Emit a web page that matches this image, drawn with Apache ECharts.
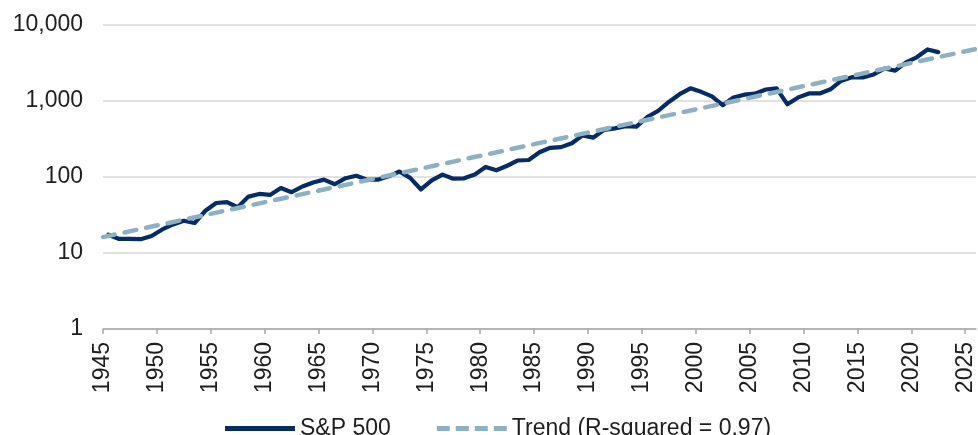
<!DOCTYPE html>
<html>
<head>
<meta charset="utf-8">
<script src="https://cdn.jsdelivr.net/npm/echarts@6/dist/echarts.min.js"></script>
<style>
  html, body { margin: 0; padding: 0; background: #fff; }
  #main { width: 978px; height: 435px; }
</style>
</head>
<body>
<div id="main"></div>
<script>
// S&P 500 year-end level, 1945 .. 2022
var firstYear = 1945;
var spValues = [
  17.36, 15.30, 15.30, 15.20, 16.76, 20.41, 23.77, 26.57, 24.81, 35.98,
  45.48, 46.67, 39.99, 55.21, 59.89, 58.11, 71.55, 63.10, 75.02, 84.75,
  92.43, 80.33, 96.47, 103.86, 92.06, 92.15, 102.09, 118.05, 97.55, 68.56,
  90.19, 107.46, 95.10, 96.11, 107.94, 135.76, 122.55, 140.64, 164.93, 167.24,
  211.28, 242.17, 247.08, 277.72, 353.40, 330.22, 417.09, 435.71, 466.45, 459.27,
  615.93, 740.74, 970.43, 1229.23, 1469.25, 1320.28, 1148.08, 879.82, 1111.92, 1211.92,
  1248.29, 1418.30, 1468.36, 903.25, 1115.10, 1257.64, 1257.60, 1426.19, 1848.36, 2058.90,
  2043.94, 2238.83, 2673.61, 2506.85, 3230.78, 3756.07, 4766.18, 4400
];
// trend line endpoints (log-linear fit)
var trendYears = ['1945', '2026'];
var trendValues = [16.2, 4830];

// axis categories
var axisYears = [];      // tick axis 1945..2026
for (var y = firstYear; y <= 2026; y++) axisYears.push(String(y));
var bandYears = [];      // one band per year 1945..2025
for (var b = firstYear; b <= 2025; b++) bandYears.push(String(b));

var font = 'Liberation Sans';
var textColor = '#1e1e1e';
var navy = '#062b66';
var steel = '#8db0c3';

var myChart = echarts.init(document.getElementById('main'));
var option = {
  animation: false,
  textStyle: { fontFamily: font },
  grid: { left: 103, right: 2, top: 25, bottom: 106 },
  legend: {
    top: 412,
    left: 220,
    itemWidth: 70,
    itemHeight: 5,
    itemGap: 46,
    textStyle: { fontFamily: font, fontSize: 23, color: textColor },
    data: [
      { name: 'S&P 500', icon: 'rect', itemStyle: { color: navy } },
      {
        name: 'Trend (R-squared = 0.97)',
        icon: 'path://M0,0H13V5H0Z M19,0H32V5H19Z M38,0H51V5H38Z M57,0H70V5H57Z',
        itemStyle: { color: steel }
      }
    ]
  },
  xAxis: [
    {
      type: 'category',
      data: axisYears,
      boundaryGap: false,
      axisLine: { lineStyle: { color: '#a6a6a6', width: 1.5 } },
      axisTick: { interval: 4, length: 5, lineStyle: { color: '#a6a6a6', width: 1.5 } },
      axisLabel: {
        interval: 4,
        rotate: 90,
        margin: 13,
        fontFamily: font,
        fontSize: 23,
        color: textColor
      },
      splitLine: { show: false }
    },
    {
      type: 'category',
      data: bandYears,
      boundaryGap: true,
      show: false
    }
  ],
  yAxis: {
    type: 'log',
    logBase: 10,
    min: 1,
    max: 10000,
    axisLine: { show: false },
    axisTick: { show: false },
    axisLabel: {
      margin: 20,
      fontFamily: font,
      fontSize: 23,
      color: textColor,
      formatter: function (v) { return Number(v).toLocaleString('en-US'); }
    },
    splitLine: { lineStyle: { color: '#d9d9d9', width: 1.5 } }
  },
  series: [
    {
      name: 'S&P 500',
      type: 'line',
      xAxisIndex: 1,
      data: spValues,
      symbol: 'none',
      z: 3,
      lineStyle: { color: navy, width: 4.2, join: 'round', cap: 'round' },
      itemStyle: { color: navy }
    },
    {
      name: 'Trend (R-squared = 0.97)',
      type: 'line',
      xAxisIndex: 0,
      data: trendYears.map(function (yr, i) { return [yr, trendValues[i]]; }),
      symbol: 'none',
      z: 4,
      lineStyle: { color: steel, width: 4.5, type: [12, 10], cap: 'round' },
      itemStyle: { color: steel }
    }
  ]
};
myChart.setOption(option);
</script>
</body>
</html>
